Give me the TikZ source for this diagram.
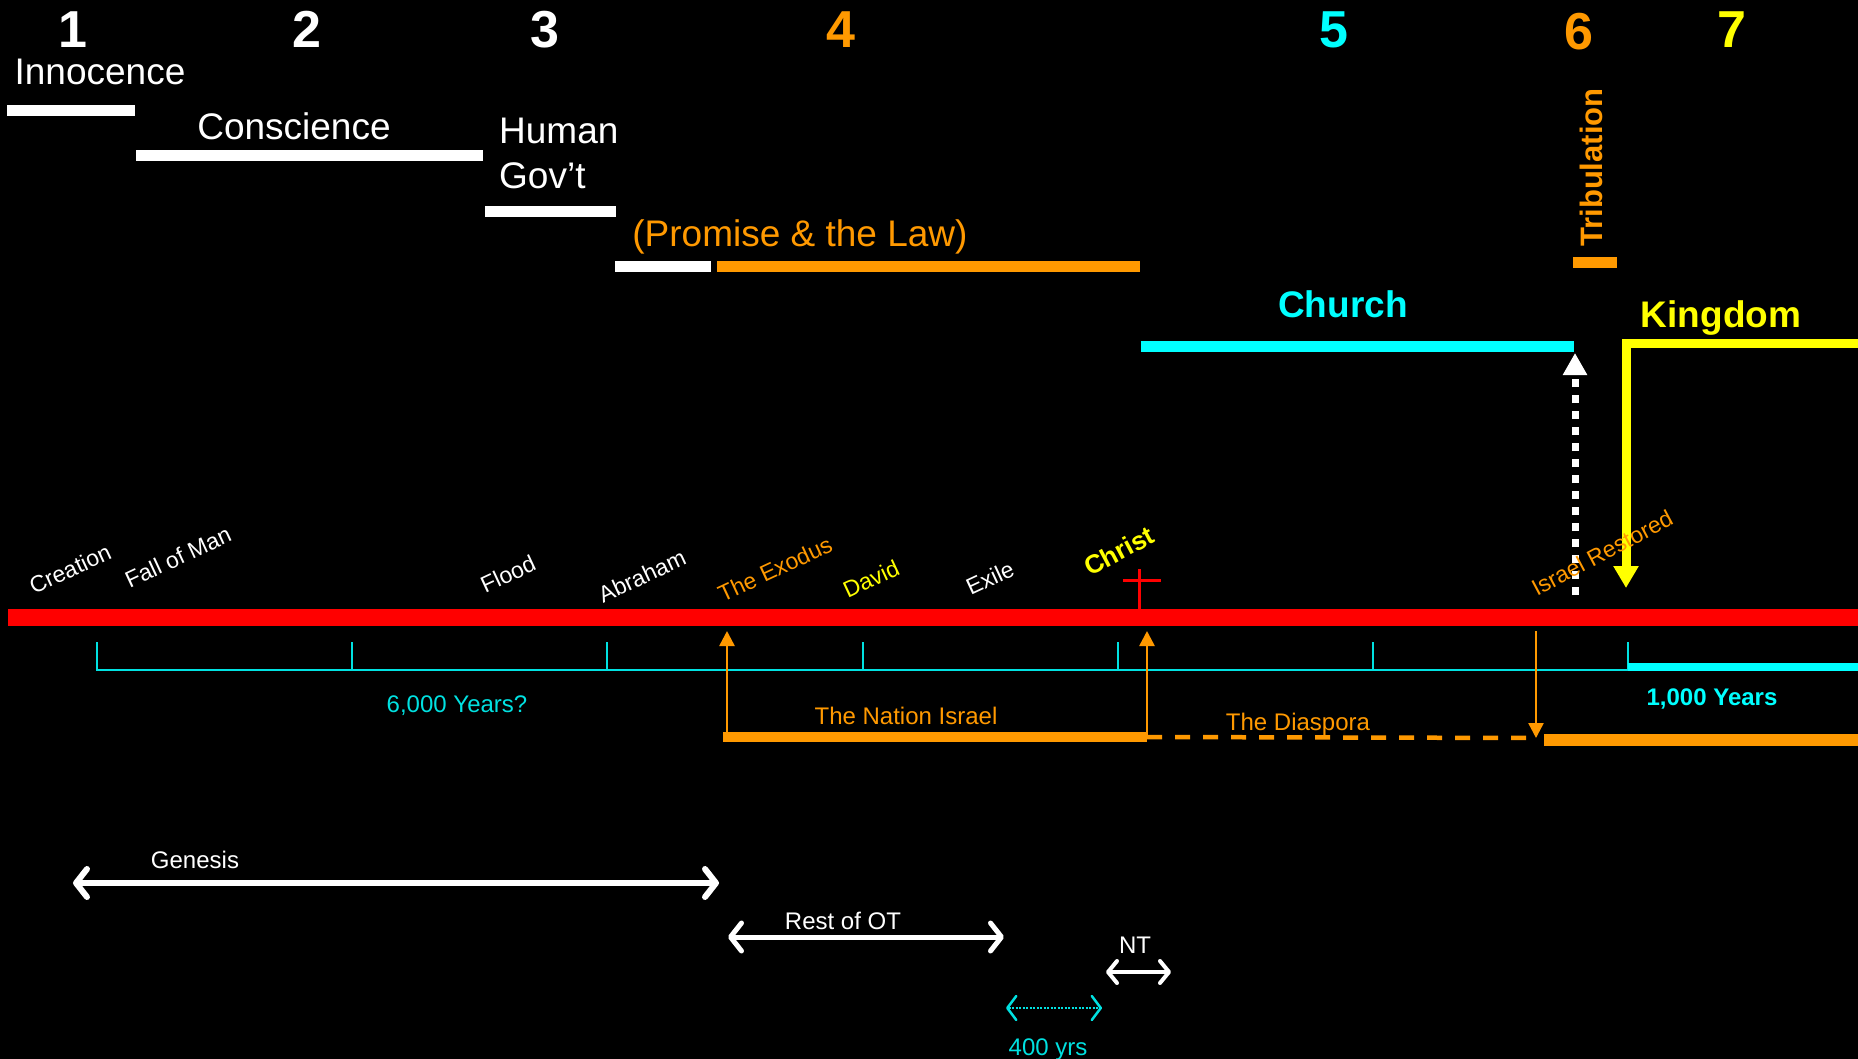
\documentclass[tikz,border=0pt]{standalone}
\usepackage{fontspec}
\setmainfont{Liberation Sans}
\usetikzlibrary{arrows.meta}
\definecolor{amber}{RGB}{255,153,0}
\definecolor{aqua}{RGB}{0,255,255}
\definecolor{lemon}{RGB}{255,255,0}
\definecolor{axis}{RGB}{0,225,225}
\begin{document}
\begin{tikzpicture}
[x=1pt,y=-1pt,
num/.style={font=\fontsize{52}{52}\selectfont\bfseries,anchor=base,inner sep=0pt},
era/.style={font=\fontsize{37}{40}\selectfont,anchor=base,inner sep=0pt},
bigera/.style={font=\fontsize{37}{40}\selectfont\bfseries,anchor=base,inner sep=0pt},
event/.style={font=\fontsize{23}{25}\selectfont,rotate=25,inner sep=0pt},
small/.style={font=\fontsize{24}{26}\selectfont,anchor=base,inner sep=0pt},
bar/.style={line width=11pt},
thin/.style={line width=2.5pt,-{Triangle[width=15pt,length=15pt]}},
span/.style={white,{Straight Barb[length=11pt,width=28pt,round]}-{Straight Barb[length=11pt,width=28pt,round]}}]
\useasboundingbox (0,0) rectangle (1858,1059);
\fill[black] (0,0) rectangle (1858,1059);
% dispensation numbers
\node (n1) at (73,48) [num,white] {1};
\node (n2) at (307,48) [num,white] {2};
\node (n3) at (545,48) [num,white] {3};
\node (n4) at (841,48) [num,amber] {4};
\node (n5) at (1334,48) [num,aqua] {5};
\node (n6) at (1579,50) [num,amber] {6};
\node (n7) at (1732,48) [num,lemon] {7};
% eras
\node (innocence) at (100,85) [era,white] {Innocence};
\draw[bar,white] (7,110.5) -- (135,110.5);
\node (conscience) at (294,140) [era,white] {Conscience};
\draw[bar,white] (136,156) -- (483,156);
\node (human) at (499,144) [era,white,anchor=base west] {Human};
\node (govt) at (499,189) [era,white,anchor=base west] {Gov’t};
\draw[bar,white] (485,211.5) -- (616,211.5);
\node (law) at (800,247) [era,amber] {(Promise \& the Law)};
\draw[bar,white] (615,266.5) -- (711,266.5);
\draw[bar,amber] (717,266.5) -- (1140,266.5);
\node (church) at (1343,317) [bigera,aqua] {Church};
\draw[bar,aqua] (1141,346) -- (1574,346);
\node (trib) at (1602,247) [font=\fontsize{31}{33}\selectfont\bfseries,amber,rotate=90,anchor=base west,inner sep=0pt] {Tribulation};
\draw[bar,amber] (1573,262.5) -- (1617,262.5);
\node (kingdom) at (1721,327) [bigera,lemon] {Kingdom};
% rapture and return
\coordinate (kbar) at (1858,343);
\coordinate (kdown) at (1626,588);
\draw[lemon,line width=9pt,-{Triangle[width=24pt,length=22pt]}] (kbar) -| (kdown);
\coordinate (rfrom) at (1575,595);
\coordinate (rto) at (1575,353);
\draw[white,line width=7pt,dash pattern=on 8pt off 8pt,-{Triangle[width=23pt,length=22pt]}] (rfrom) -- (rto);
% timeline
\draw[red,line width=17pt] (8,617) -- (1858,617);
\draw[red,line width=3pt] (1139,569) -- (1139,610) (1123,580) -- (1161,580);
\node (creation) at (70,569) [event,white] {Creation};
\node (fall) at (178,557) [event,white] {Fall of Man};
\node (flood) at (508,574) [event,white] {Flood};
\node (abraham) at (642,576) [event,white] {Abraham};
\node (exodus) at (775,569) [event,amber] {The Exodus};
\node (david) at (871,579) [event,lemon] {David};
\node (exile) at (990,578) [event,white] {Exile};
\node (christ) at (1119,551) [event,lemon,rotate=3,font=\fontsize{26}{28}\selectfont\bfseries] {Christ};
\node (restored) at (1602,553) [event,amber,rotate=3] {Israel Restored};
% years axis
\draw[axis,line width=2.5pt] (97,670) -- (1628,670);
\foreach \i in {0,...,6}
  \draw[axis,line width=2pt] (97+255.17*\i,642) -- ++(0,29);
\draw[aqua,line width=8pt] (1628,667) -- (1858,667);
\node (sixk) at (457,712) [small,axis] {6,000 Years?};
\node (thousand) at (1712,705) [small,aqua,font=\fontsize{24}{26}\selectfont\bfseries] {1,000 Years};
% nation israel
\coordinate (ex0) at (727,737);
\coordinate (ex1) at (727,631);
\coordinate (cr0) at (1147,737);
\coordinate (cr1) at (1147,631);
\coordinate (di0) at (1536,631);
\coordinate (di1) at (1536,738);
\draw[amber,line width=10pt] (723,737) -- (cr0);
\draw[amber,thin] (ex0) -- (ex1);
\draw[amber,thin] (cr0) -- (cr1);
\draw[amber,line width=4.5pt,dash pattern=on 15pt off 13pt] (cr0) -- (di1);
\draw[amber,thin] (di0) -- (di1);
\draw[amber,line width=12pt] (1544,739.5) -- (1858,739.5);
\node (nation) at (906,724) [small,amber] {The Nation Israel};
\node (diaspora) at (1298,730) [small,amber] {The Diaspora};
% books
\coordinate (g0) at (73,883);
\coordinate (g1) at (719,883);
\draw[span,line width=6pt] (g0) -- (g1);
\node (genesis) at (195,868) [small,white] {Genesis};
\coordinate (o0) at (728,937);
\coordinate (o1) at (1004,937);
\draw[span,line width=5pt] (o0) -- (o1);
\node (restot) at (843,929) [small,white] {Rest of OT};
\coordinate (t0) at (1106,972);
\coordinate (t1) at (1171,972);
\draw[white,line width=4pt,{Straight Barb[length=9pt,width=22pt,round]}-{Straight Barb[length=9pt,width=22pt,round]}] (t0) -- (t1);
\node (nt) at (1135,953) [small,white] {NT};
\coordinate (s0) at (1006,1008);
\coordinate (s1) at (1102,1008);
\draw[axis,line width=2.5pt,dash pattern=on 2pt off 1.5pt,{Straight Barb[length=9pt,width=24pt,round]}-{Straight Barb[length=9pt,width=24pt,round]}] (s0) -- (s1);
\node (silent) at (1048,1055) [small,axis] {400 yrs};
\end{tikzpicture}
\end{document}
